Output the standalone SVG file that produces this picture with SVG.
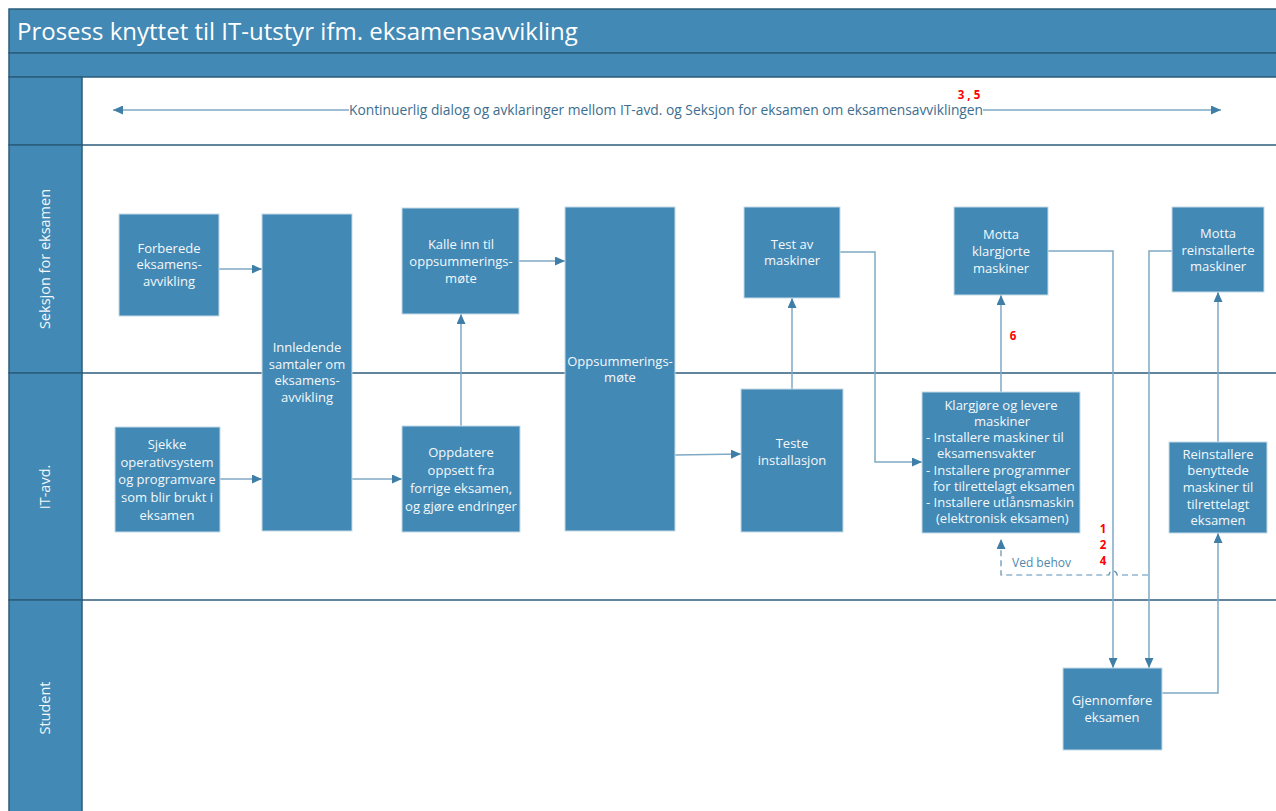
<svg xmlns="http://www.w3.org/2000/svg" width="1276" height="811" viewBox="0 0 1276 811">
<defs>
<style>
.band{fill:#4289b5;stroke:#2b5d7b;stroke-width:1.5}
.lane{stroke:#2b5d7b;stroke-width:1.5}
.node rect{fill:#4289b5;stroke:#c6dae7;stroke-width:1}
.node text{font-family:"Open Sans","Noto Sans","DejaVu Sans",sans-serif;font-size:13px;fill:#f4f8fb;text-anchor:middle}
.node text.l{text-anchor:start}
.hdr{font-family:"Open Sans","Noto Sans","DejaVu Sans",sans-serif;font-size:14.5px;fill:#f4f8fb;text-anchor:middle}
.title{font-family:"Open Sans","Noto Sans","DejaVu Sans",sans-serif;font-size:24px;fill:#ffffff}
.conn{fill:none;stroke:#7fa9c5;stroke-width:1.5;marker-end:url(#arr)}
.dash{fill:none;stroke:#5b8fb3;stroke-width:1.2;stroke-dasharray:6,4;marker-end:url(#arr)}
.lbl{font-family:"Open Sans","Noto Sans","DejaVu Sans",sans-serif;font-size:13.8px;fill:#3c6e8f}
.vb{font-family:"Open Sans","Noto Sans","DejaVu Sans",sans-serif;font-size:12px;fill:#4f87ad}
.red{font-family:"Open Sans","Noto Sans","DejaVu Sans",sans-serif;font-size:11.5px;font-weight:bold;fill:#ff0000}
</style>
<marker id="arr" viewBox="0 0 10 9" refX="10" refY="4.5" markerWidth="10" markerHeight="9" markerUnits="userSpaceOnUse" orient="auto">
<path d="M0,0 L10,4.5 L0,9 z" fill="#3f7fa7"/>
</marker>
</defs>
<rect x="0" y="0" width="1276" height="811" fill="#ffffff"/>

<g id="pool">
<rect class="band" x="9" y="9" width="1280" height="44"/>
<text class="title" x="17" y="40">Prosess knyttet til IT-utstyr ifm. eksamensavvikling</text>
<rect class="band" x="9" y="53" width="1280" height="24"/>
<rect class="band" x="9" y="77" width="73" height="68"/>
<rect class="band" x="9" y="145" width="73" height="228"/>
<rect class="band" x="9" y="373" width="73" height="227"/>
<rect class="band" x="9" y="600" width="73" height="220"/>
<line class="lane" x1="82" y1="145" x2="1276" y2="145"/>
<line class="lane" x1="82" y1="373" x2="1276" y2="373"/>
<line class="lane" x1="82" y1="600" x2="1276" y2="600"/>
<text class="hdr" transform="translate(50,259) rotate(-90)">Seksjon for eksamen</text>
<text class="hdr" transform="translate(50,487) rotate(-90)">IT-avd.</text>
<text class="hdr" transform="translate(50,708) rotate(-90)">Student</text>
</g>

<g id="connectors">
<path class="conn" d="M349,110 H113"/>
<path class="conn" d="M983,110 H1221"/>
<text class="lbl" x="666" y="115" text-anchor="middle">Kontinuerlig dialog og avklaringer mellom IT-avd. og Seksjon for eksamen om eksamensavviklingen</text>
<text class="red" x="969" y="99" text-anchor="middle">3 , 5</text>
<path class="conn" d="M219,269 H262"/>
<path class="conn" d="M219,479 H262"/>
<path class="conn" d="M351,479 H402"/>
<path class="conn" d="M461,426 V314"/>
<path class="conn" d="M519,261 H565"/>
<path class="conn" d="M675,455 L741,454"/>
<path class="conn" d="M792,389 V298"/>
<path class="conn" d="M840,252 H875 V462 H922"/>
<path class="conn" d="M1001,392 V295"/>
<text class="red" x="1013" y="340" text-anchor="middle">6</text>
<path class="conn" d="M1048,251 H1113 V668"/>
<path class="conn" d="M1172,251 H1149 V668"/>
<path class="conn" d="M1162,693 H1218 V533"/>
<path class="conn" d="M1218,442 V292"/>
<path class="dash" d="M1148,575 H1117 a4,4 0 0 0 -8,0 H1001 V539"/>
<text class="vb" x="1012" y="567">Ved behov</text>
<text class="red" x="1103" y="533" text-anchor="middle">1</text>
<text class="red" x="1103" y="549" text-anchor="middle">2</text>
<text class="red" x="1103" y="565" text-anchor="middle">4</text>
</g>

<g id="n-forberede" class="node">
<rect x="119" y="214" width="100" height="102"/>
<text x="169" y="253">Forberede</text>
<text x="169" y="269">eksamens-</text>
<text x="169" y="286">avvikling</text>
</g>
<g id="n-innledende" class="node">
<rect x="262" y="214" width="90" height="317"/>
<text x="307" y="352">Innledende</text>
<text x="307" y="369">samtaler om</text>
<text x="307" y="385">eksamens-</text>
<text x="307" y="402">avvikling</text>
</g>
<g id="n-sjekke" class="node">
<rect x="115" y="427" width="105" height="105"/>
<text x="167" y="449">Sjekke</text>
<text x="167" y="467">operativsystem</text>
<text x="167" y="484">og programvare</text>
<text x="167" y="502">som blir brukt i</text>
<text x="167" y="520">eksamen</text>
</g>
<g id="n-kalle" class="node">
<rect x="402" y="208" width="117" height="106"/>
<text x="461" y="249">Kalle inn til</text>
<text x="461" y="266">oppsummerings-</text>
<text x="461" y="283">møte</text>
</g>
<g id="n-oppdatere" class="node">
<rect x="402" y="426" width="118" height="106"/>
<text x="461" y="457">Oppdatere</text>
<text x="461" y="475">oppsett fra</text>
<text x="461" y="493">forrige eksamen,</text>
<text x="461" y="511">og gjøre endringer</text>
</g>
<g id="n-oppsummering" class="node">
<rect x="565" y="207" width="110" height="324"/>
<text x="620" y="366">Oppsummerings-</text>
<text x="620" y="382">møte</text>
</g>
<g id="n-testav" class="node">
<rect x="744" y="207" width="96" height="91"/>
<text x="792" y="249">Test av</text>
<text x="792" y="265">maskiner</text>
</g>
<g id="n-teste" class="node">
<rect x="741" y="389" width="102" height="143"/>
<text x="792" y="448">Teste</text>
<text x="792" y="465">installasjon</text>
</g>
<g id="n-motta-klar" class="node">
<rect x="954" y="207" width="94" height="88"/>
<text x="1001" y="239">Motta</text>
<text x="1001" y="256">klargjorte</text>
<text x="1001" y="273">maskiner</text>
</g>
<g id="n-klargjore" class="node">
<rect x="922" y="392" width="158" height="141"/>
<text x="1001" y="410">Klargjøre og levere</text>
<text x="1002" y="426">maskiner</text>
<text class="l" x="926" y="442">- Installere maskiner til</text>
<text class="l" x="937" y="458">eksamensvakter</text>
<text class="l" x="926" y="475">- Installere programmer</text>
<text class="l" x="933" y="491">for tilrettelagt eksamen</text>
<text class="l" x="926" y="507">- Installere utlånsmaskin</text>
<text class="l" x="936" y="523">(elektronisk eksamen)</text>
</g>
<g id="n-motta-reinst" class="node">
<rect x="1172" y="207" width="92" height="85"/>
<text x="1218" y="238">Motta</text>
<text x="1218" y="255">reinstallerte</text>
<text x="1218" y="271">maskiner</text>
</g>
<g id="n-reinstallere" class="node">
<rect x="1169" y="442" width="98" height="91"/>
<text x="1218" y="459">Reinstallere</text>
<text x="1218" y="475">benyttede</text>
<text x="1218" y="492">maskiner til</text>
<text x="1218" y="509">tilrettelagt</text>
<text x="1218" y="525">eksamen</text>
</g>
<g id="n-gjennomfore" class="node">
<rect x="1063" y="668" width="99" height="82"/>
<text x="1112" y="705">Gjennomføre</text>
<text x="1112" y="722">eksamen</text>
</g>
</svg>
